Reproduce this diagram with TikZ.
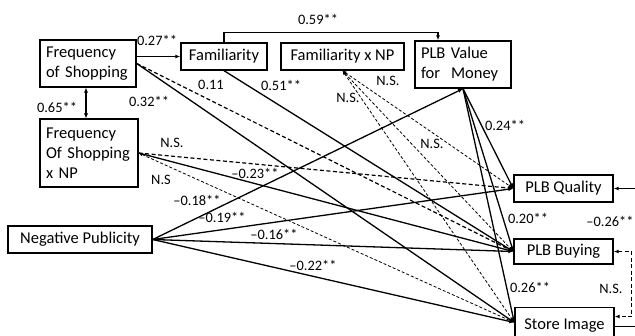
\documentclass[tikz,border=0pt]{standalone}
\usepackage{fontspec}
\setmainfont{Carlito}
\usetikzlibrary{arrows.meta,calc}
\begin{document}
\begin{tikzpicture}[x=1pt,y=-1pt,
  box/.style={draw,line width=1.4pt,inner xsep=6pt,inner ysep=0pt,font=\fontsize{16.5}{20}\selectfont},
  lab/.style={font=\fontsize{14.4}{16}\selectfont,inner sep=0pt},
  tip/.tip={Latex[length=5pt,width=4pt]},
  stip/.tip={Latex[length=4pt,width=3.5pt]},
  conn/.style={line width=1.3pt,-tip},
  dashheavy/.style={line width=1.2pt,dash pattern=on 4pt off 2.5pt,-tip},
  dashthin/.style={line width=0.8pt,dash pattern=on 3pt off 2pt,stip-tip},
]
\useasboundingbox (0,0) rectangle (635,335);
\clip (0,0) rectangle (635,335);

% boxes
\node[box,text width=84pt,align=left,minimum height=47pt] (fos) at (88,63.5) {Frequency\\of Shopping};
\node[box,minimum width=86pt,minimum height=27pt] (fam) at (224,56.5) {Familiarity};
\node[box,minimum width=123pt,minimum height=27pt] (famnp) at (342.5,56.5) {Familiarity x NP};
\node[box,text width=84pt,align=left,minimum height=47pt] (plbv) at (463,64.5) {PLB Value\\for\ \ Money};
\node[box,text width=86pt,align=left,minimum height=68pt] (fosnp) at (89,153) {Frequency\\Of Shopping\\x NP};
\node[box,minimum width=144pt,minimum height=27pt] (np) at (80,239.5) {Negative Publicity};
\node[box,minimum width=99pt,minimum height=27pt] (plbq) at (563.5,188.5) {PLB Quality};
\node[box,minimum width=99pt,minimum height=25pt] (plbb) at (563.5,251.5) {PLB Buying};
\node[box,minimum width=99pt,minimum height=36pt] (si) at (564.5,325.5) {Store Image};
\coordinate (siin) at ($(si.west)+(0,-3)$);

% connectors from Frequency of Shopping
\draw[conn] (fos.east |- fam.west) -- (fam.west);
\draw[conn] (fos.east) -- (siin);
\draw[dashheavy] (fos.east) -- (plbb.west);
\draw[line width=1.3pt,{Latex[length=5pt,width=4.5pt]}-{Latex[length=5pt,width=4.5pt]}] ($(fos.south)+(-2,0)$) -- ($(fos.south |- fosnp.north)+(-2,0)$);

% Familiarity
\draw[conn] (fam.south) -- (plbb.west);
\draw[conn] (fam.north) -- ++(0,-10) -| ($(plbv.north)+(-25,0)$);

% Familiarity x NP
\draw[dashthin] (famnp.south) -- (plbq.west);
\draw[dashthin] (famnp.south) -- (plbb.west);
\draw[dashthin] (famnp.south) -- (siin);

% Frequency of Shopping x NP
\draw[dashheavy] (fosnp.east) -- (plbq.west);
\draw[conn] (fosnp.east) -- (plbb.west);
\draw[dashthin] (fosnp.east) -- (siin);

% Negative Publicity
\draw[conn] (np.east) -- (plbv.south);
\draw[conn] (np.east) -- (plbq.west);
\draw[conn] (np.east) -- (plbb.west);
\draw[conn] (np.east) -- (siin);

% PLB Value for Money
\draw[conn] (plbv.south) -- (plbq.west);
\draw[conn] (plbv.south) -- (plbb.west);
\draw[conn] (plbv.south) -- (siin);

% right side
\draw[conn] ($(si.east)+(0,1)$) -- (660,326.5) |- (plbq.east);
\draw[dashheavy,tip-tip] (plbb.east) -| ($(si.east)+(17,-9)$) -- ($(si.east)+(0,-9)$);

% labels
\node[lab] (l59) at (318,19) {0.59**};
\node[lab] (l27) at (157,40) {0.27**};
\node[lab] (l65) at (57,107) {0.65**};
\node[lab] (l11) at (211,85) {0.11};
\node[lab] (l32) at (149,101) {0.32**};
\node[lab] (l51) at (281,85) {0.51**};
\node[lab] (lns1) at (388,81) {N.S.};
\node[lab] (lns2) at (348,98) {N.S.};
\node[lab] (lns3) at (432,144) {N.S.};
\node[lab] (l24) at (505,125) {0.24**};
\node[lab] (lns4) at (172,143) {N.S.};
\node[lab] (lns5) at (161,180) {N.S};
\node[lab] (l23) at (255,173) {–0.23**};
\node[lab] (l18) at (197,200) {–0.18**};
\node[lab] (l19) at (222,217) {–0.19**};
\node[lab] (l16) at (274,234) {–0.16**};
\node[lab] (l22) at (313,265) {–0.22**};
\node[lab] (l20) at (528,218) {0.20**};
\node[lab] (l26) at (530,287) {0.26**};
\node[lab] (lm26) at (610,221) {–0.26**};
\node[lab] (lns6) at (611,289) {N.S.};
\end{tikzpicture}
\end{document}
